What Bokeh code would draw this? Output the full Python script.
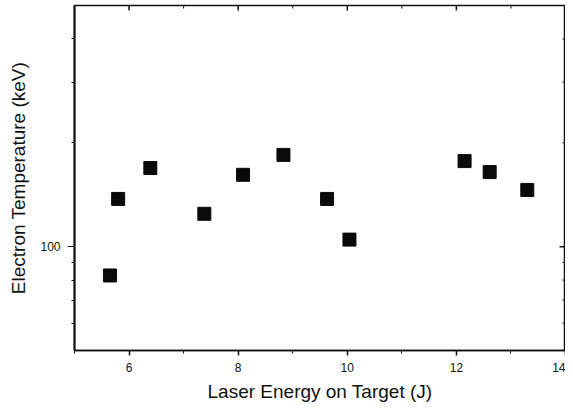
import math
from bokeh.plotting import figure
from bokeh.models import FixedTicker, Range1d, NumeralTickFormatter
from bokeh.embed import file_html
from bokeh.resources import INLINE

# Data
energy = [5.65, 5.80, 6.39, 7.38, 8.09, 8.83, 9.63, 10.04, 12.15, 12.61, 13.30]
temperature = [82.5, 137.5, 169.0, 124.5, 161.5, 184.5, 137.5, 104.8, 177.0, 164.5, 146.0]

x_major = [6, 8, 10, 12, 14]
x_minor = [5, 7, 9, 11, 13]
y_major = [100]
y_minor = [60, 70, 80, 90, 200, 300, 400]

X_MIN, X_MAX = 5, 14
Y_MIN, Y_MAX = 50, 500

FONT = "Liberation Sans"
INK = "#111111"

p = figure(width=565, height=404,
           x_range=Range1d(X_MIN, X_MAX), y_range=Range1d(Y_MIN, Y_MAX),
           y_axis_type="log", output_backend="svg", toolbar_location=None,
           min_border_left=74, min_border_right=0, min_border_top=5, min_border_bottom=52)

p.xgrid.visible = False
p.ygrid.visible = False
p.background_fill_color = "white"
p.border_fill_color = "white"
p.outline_line_color = INK
p.outline_line_width = 1.5

xa = p.xaxis[0]
xa.ticker = FixedTicker(ticks=x_major, minor_ticks=x_minor)
xa.axis_label = "Laser Energy on Target (J)"
xa.axis_label_text_font = FONT
xa.axis_label_text_font_size = "19px"
xa.axis_label_text_font_style = "normal"
xa.axis_label_text_color = INK
xa.axis_label_standoff = 6
xa.major_label_text_font = FONT
xa.major_label_text_font_size = "12px"
xa.major_label_text_color = INK
xa.major_label_standoff = 7
xa.major_tick_out = 5
xa.major_tick_in = 0
xa.minor_tick_out = 3
xa.minor_tick_in = 0
xa.axis_line_width = 1.5
xa.axis_line_color = INK
xa.major_tick_line_color = INK
xa.minor_tick_line_color = INK
xa.major_tick_line_width = 1.5

ya = p.yaxis[0]
ya.ticker = FixedTicker(ticks=y_major, minor_ticks=y_minor)
ya.formatter = NumeralTickFormatter(format="0")
ya.axis_label = "Electron Temperature (keV)"
ya.axis_label_text_font = FONT
ya.axis_label_text_font_size = "19px"
ya.axis_label_text_font_style = "normal"
ya.axis_label_text_color = INK
ya.axis_label_standoff = 8
ya.major_label_text_font = FONT
ya.major_label_text_font_size = "12px"
ya.major_label_text_color = INK
ya.major_label_standoff = 7
ya.major_tick_out = 7
ya.major_tick_in = 0
ya.minor_tick_out = 3
ya.minor_tick_in = 0
ya.axis_line_width = 2
ya.axis_line_color = INK
ya.major_tick_line_color = INK
ya.minor_tick_line_color = INK

# mirrored inward ticks on top and right edges (dash markers clipped by the frame)
p.scatter(x_major, [Y_MAX] * len(x_major), marker="dash", angle=math.pi / 2,
          size=10, line_color=INK, line_width=1.5)
p.scatter(x_minor, [Y_MAX] * len(x_minor), marker="dash", angle=math.pi / 2,
          size=6, line_color=INK, line_width=1)
p.scatter([X_MAX] * len(y_major), y_major, marker="dash",
          size=12, line_color=INK, line_width=1.5)
p.scatter([X_MAX] * len(y_minor), y_minor, marker="dash",
          size=6, line_color=INK, line_width=1)

p.scatter(energy, temperature, marker="square", size=13,
          fill_color="#0a0a0a", line_color="#0a0a0a")

open("out.html", "w").write(file_html(p, INLINE))
